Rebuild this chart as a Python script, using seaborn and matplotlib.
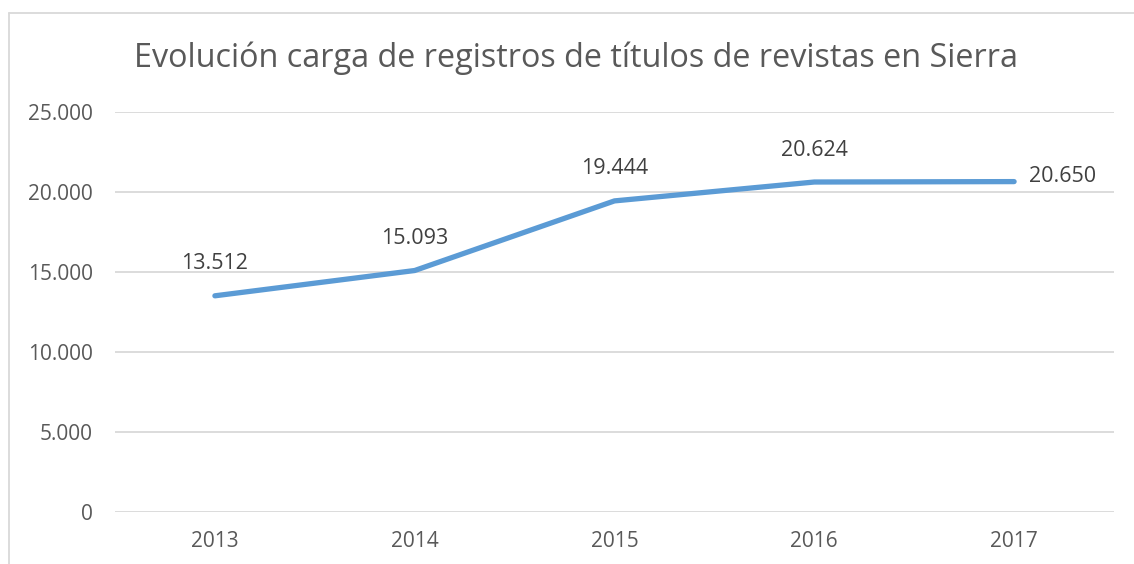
import matplotlib
matplotlib.use('Agg')
import matplotlib.pyplot as plt
from matplotlib.ticker import FuncFormatter
from matplotlib.lines import Line2D
import pandas as pd
import seaborn as sns

# Chart data
years = ['2013', '2014', '2015', '2016', '2017']
registros = [13512, 15093, 19444, 20624, 20650]
title = 'Evolución carga de registros de títulos de revistas en Sierra'

df = pd.DataFrame({'Año': years, 'Registros': registros})

sns.set_style('white')
plt.rcParams['font.family'] = ['Open Sans', 'DejaVu Sans']

W, H = 1134, 564
fig = plt.figure(figsize=(W / 100, H / 100), dpi=100)
ax = fig.add_axes([115 / W, 52 / H, 999 / W, 400 / H])

def es_fmt(v, pos=None):
    return f'{int(round(v)):,}'.replace(',', '.')

sns.lineplot(data=df, x='Año', y='Registros', ax=ax, color='#5B9BD5',
             linewidth=3.8, solid_capstyle='round', solid_joinstyle='round',
             zorder=3)

ax.set_xlim(-0.5, len(years) - 0.5)
ax.set_ylim(0, 25000)
ax.set_yticks(range(0, 25001, 5000))
ax.yaxis.set_major_formatter(FuncFormatter(es_fmt))
ax.grid(axis='y', color='#D9D9D9', linewidth=1.3)
ax.grid(axis='x', visible=False)
for s in ax.spines.values():
    s.set_visible(False)
ax.tick_params(axis='both', length=0, labelsize=15, colors='#595959')
ax.tick_params(axis='y', pad=16)
ax.tick_params(axis='x', pad=14)
ax.set_xlabel('')
ax.set_ylabel('')

# data labels
for i, v in enumerate(registros):
    if i == len(registros) - 1:
        ax.annotate(es_fmt(v), (i, v), xytext=(11, 4), textcoords='offset points',
                    ha='left', va='center', fontsize=15.5, color='#404040')
    else:
        ax.annotate(es_fmt(v), (i, v), xytext=(0, 23), textcoords='offset points',
                    ha='center', va='center', fontsize=15.5, color='#404040')

fig.text(576 / W, 1 - 58 / H, title, ha='center', va='center',
         fontsize=23.3, color='#595959')

# chart area border
fig.add_artist(Line2D([8.5 / W, 8.5 / W], [0, 1 - 13 / H], transform=fig.transFigure,
                      color='#D9D9D9', linewidth=1.3))
fig.add_artist(Line2D([8.5 / W, 1], [1 - 13 / H, 1 - 13 / H], transform=fig.transFigure,
                      color='#D9D9D9', linewidth=1.3))

fig.savefig('out.png', dpi=100, facecolor='white')
